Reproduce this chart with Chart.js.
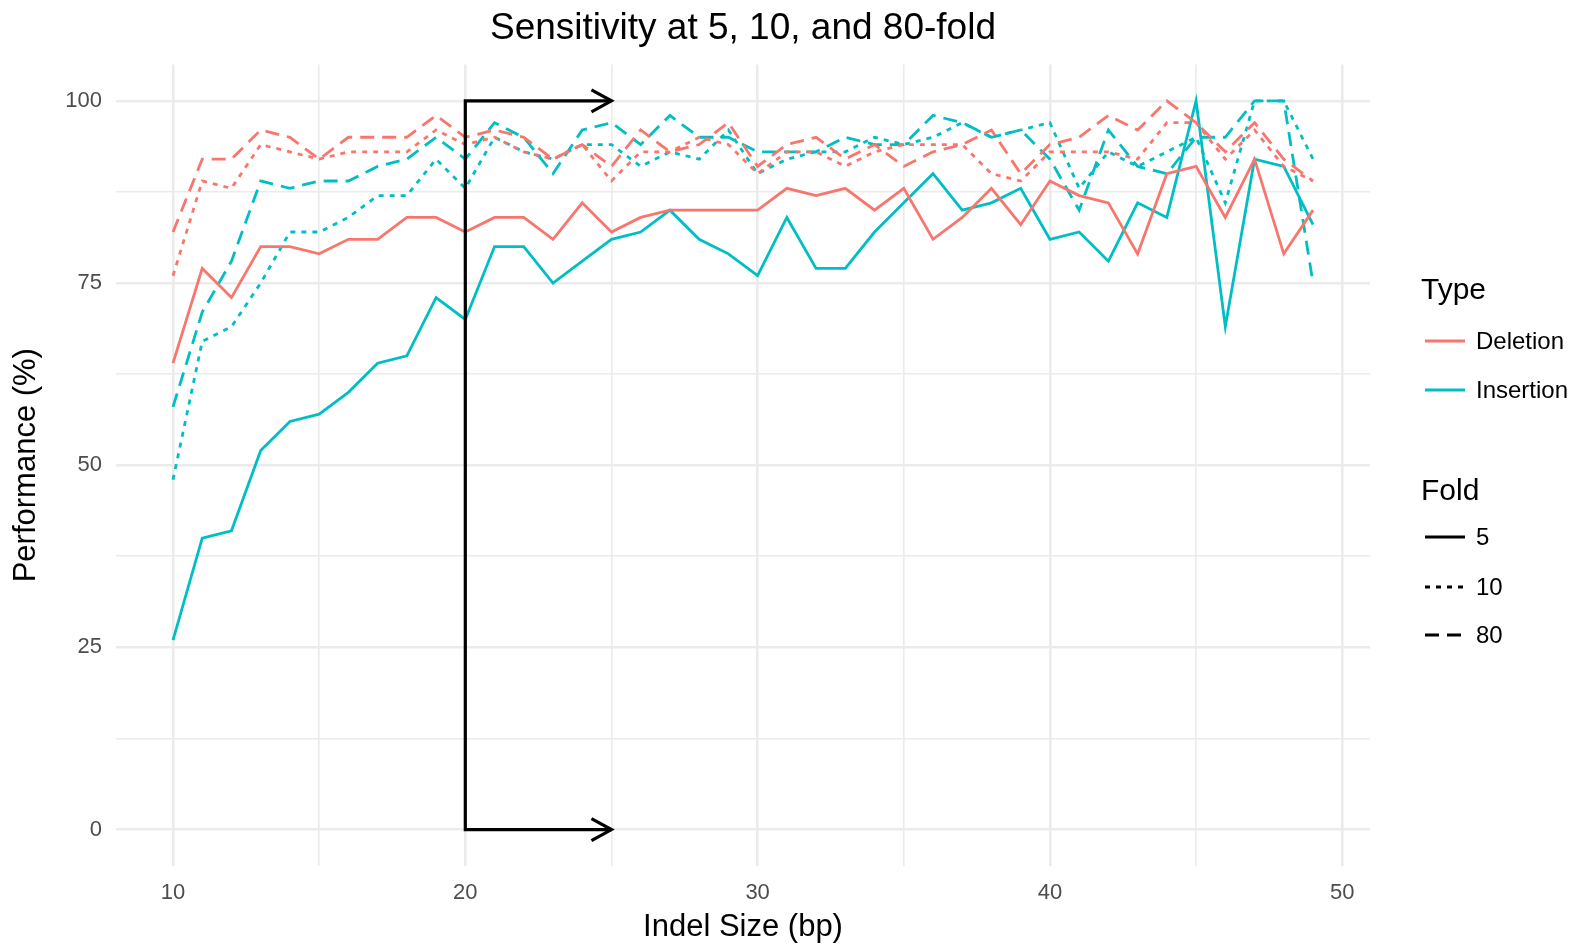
<!DOCTYPE html>
<html>
<head>
<meta charset="utf-8">
<script src="https://cdn.jsdelivr.net/npm/chart.js@4.4.1/dist/chart.umd.min.js"></script>
<style>
  html, body { margin: 0; padding: 0; background: #fff; }
</style>
</head>
<body>
<canvas id="chartSensitivity" width="1584" height="945"></canvas>
<script>
// indel sizes (bp)
var indelSize = [10, 11, 12, 13, 14, 15, 16, 17, 18, 19,
                 20, 21, 22, 23, 24, 25, 26, 27, 28, 29,
                 30, 31, 32, 33, 34, 35, 36, 37, 38, 39,
                 40, 41, 42, 43, 44, 45, 46, 47, 48, 49];

// performance (%) per type and fold
var deletion5  = [64, 77, 73, 80, 80, 79, 81, 81, 84, 84,
                  82, 84, 84, 81, 86, 82, 84, 85, 85, 85,
                  85, 88, 87, 88, 85, 88, 81, 84, 88, 83,
                  89, 87, 86, 79, 90, 91, 84, 92, 79, 85];
var deletion10 = [76, 89, 88, 94, 93, 92, 93, 93, 93, 96,
                  94, 95, 93, 92, 94, 89, 93, 93, 95, 94,
                  90, 93, 93, 91, 93, 94, 94, 94, 90, 89,
                  93, 93, 93, 92, 97, 97, 92, 96, 91, 89];
var deletion80 = [82, 92, 92, 96, 95, 92, 95, 95, 95, 98,
                  95, 96, 95, 92, 94, 91, 96, 93, 94, 97,
                  91, 94, 95, 92, 94, 91, 93, 94, 96, 90,
                  94, 95, 98, 96, 100, 97, 93, 97, 92, 89];
var insertion5  = [26, 40, 41, 52, 56, 57, 60, 64, 65, 73,
                   70, 80, 80, 75, 78, 81, 82, 85, 81, 79,
                   76, 84, 77, 77, 82, 86, 90, 85, 86, 88,
                   81, 82, 78, 86, 84, 100, 69, 92, 91, 83];
var insertion10 = [48, 67, 69, 75, 82, 82, 84, 87, 87, 92,
                   88, 95, 93, 92, 94, 94, 91, 93, 92, 96,
                   90, 92, 93, 93, 95, 94, 95, 97, 95, 96,
                   97, 88, 93, 91, 93, 95, 86, 100, 100, 92];
var insertion80 = [58, 71, 78, 89, 88, 89, 89, 91, 92, 95,
                   92, 97, 95, 90, 96, 97, 94, 98, 95, 95,
                   93, 93, 93, 95, 94, 94, 98, 97, 95, 96,
                   92, 85, 96, 91, 90, 95, 95, 100, 100, 75];

var types = ['Deletion', 'Insertion'];
var folds = ['5', '10', '80'];
var xTicks = [10, 15, 20, 25, 30, 35, 40, 45, 50];
var yTicks = [0, 12.5, 25, 37.5, 50, 62.5, 75, 87.5, 100];

// bracket marking the 20 bp window
var bracketX = [20, 25];
var bracketY = [0, 100];

var typeColors = {Deletion: '#F8766D', Insertion: '#00BFC4'};
var foldDash = {'5': [], '10': [5, 6], '80': [14, 8]};

var FONT = '"Liberation Sans", Arial, Helvetica, sans-serif';
Chart.defaults.font.family = FONT;

function toPoints(values) {
    return values.map(function (v, i) { return {x: indelSize[i], y: v}; });
}

function makeSet(type, fold, values) {
    return {
        label: type + ' ' + fold,
        data: toPoints(values),
        borderColor: typeColors[type],
        borderDash: foldDash[fold],
        borderWidth: 2.8,
        borderCapStyle: 'butt',
        pointRadius: 0,
        tension: 0,
        fill: false
    };
}

var bracketPlugin = {
    id: 'bracket',
    afterDatasetsDraw: function (chart) {
        var ctx = chart.ctx, xs = chart.scales.x, ys = chart.scales.y;
        var x0 = xs.getPixelForValue(bracketX[0]);
        var x1 = xs.getPixelForValue(bracketX[1]);
        var yLow = ys.getPixelForValue(bracketY[0]);
        var yHigh = ys.getPixelForValue(bracketY[1]);
        ctx.save();
        ctx.strokeStyle = '#000';
        ctx.lineWidth = 3.2;
        ctx.lineCap = 'butt';
        ctx.lineJoin = 'miter';
        ctx.beginPath();
        ctx.moveTo(x1, yHigh);
        ctx.lineTo(x0, yHigh);
        ctx.lineTo(x0, yLow);
        ctx.lineTo(x1, yLow);
        ctx.stroke();
        [yHigh, yLow].forEach(function (y) {
            ctx.beginPath();
            ctx.moveTo(x1 - 20, y - 11);
            ctx.lineTo(x1, y);
            ctx.lineTo(x1 - 20, y + 11);
            ctx.stroke();
        });
        ctx.restore();
    }
};

var legendPlugin = {
    id: 'typeFoldLegend',
    afterDraw: function (chart) {
        var ctx = chart.ctx;
        var keyX0 = 1425, keyX1 = 1465, textX = 1476;
        ctx.save();
        ctx.textBaseline = 'middle';
        ctx.textAlign = 'left';
        ctx.fillStyle = '#000';

        ctx.font = '30px ' + FONT;
        ctx.fillText('Type', 1421, 291);
        ctx.fillText('Fold', 1421, 492);

        ctx.font = '24px ' + FONT;
        ctx.lineWidth = 2.8;
        ctx.lineCap = 'butt';
        var typeRows = [341, 390];
        types.forEach(function (t, i) {
            ctx.strokeStyle = typeColors[t];
            ctx.setLineDash([]);
            ctx.beginPath();
            ctx.moveTo(keyX0, typeRows[i]);
            ctx.lineTo(keyX1, typeRows[i]);
            ctx.stroke();
            ctx.fillText(t, textX, typeRows[i] + 1);
        });
        var foldRows = [537, 587, 635];
        folds.forEach(function (f, i) {
            ctx.strokeStyle = '#000';
            ctx.setLineDash(foldDash[f]);
            ctx.beginPath();
            ctx.moveTo(keyX0, foldRows[i]);
            ctx.lineTo(keyX1, foldRows[i]);
            ctx.stroke();
            ctx.fillText(f, textX, foldRows[i] + 1);
        });
        ctx.restore();
    }
};

var datasets = [
    makeSet('Deletion', '5', deletion5),
    makeSet('Deletion', '10', deletion10),
    makeSet('Deletion', '80', deletion80),
    makeSet('Insertion', '5', insertion5),
    makeSet('Insertion', '10', insertion10),
    makeSet('Insertion', '80', insertion80)
];

var ctx = document.getElementById('chartSensitivity').getContext('2d');
new Chart(ctx, {
    type: 'line',
    data: {datasets: datasets},
    plugins: [bracketPlugin, legendPlugin],
    options: {
        responsive: false,
        animation: false,
        layout: {padding: {left: 0, right: 214, top: 0, bottom: 0}},
        plugins: {
            legend: {display: false},
            tooltip: {enabled: false},
            title: {
                display: true,
                text: 'Sensitivity at 5, 10, and 80-fold',
                color: '#000',
                fullSize: false,
                font: {size: 37, weight: 'normal', lineHeight: 1.2},
                padding: {top: 7, bottom: 13}
            }
        },
        scales: {
            x: {
                type: 'linear',
                min: 8.05,
                max: 50.95,
                afterBuildTicks: function (scale) {
                    scale.ticks = xTicks.map(function (v) { return {value: v}; });
                },
                afterFit: function (scale) { scale.height = 79; },
                border: {display: false},
                grid: {
                    color: '#EBEBEB',
                    drawTicks: false,
                    lineWidth: function (c) { return c.tick && c.tick.value % 10 === 0 ? 2.6 : 1.6; }
                },
                ticks: {
                    color: '#4D4D4D',
                    padding: 14,
                    maxRotation: 0,
                    font: {size: 22},
                    callback: function (v) { return v % 10 === 0 ? v : ''; }
                },
                title: {
                    display: true,
                    text: 'Indel Size (bp)',
                    color: '#000',
                    font: {size: 31, lineHeight: 1.0},
                    padding: {top: 0, bottom: 2}
                }
            },
            y: {
                min: -5,
                max: 105,
                afterBuildTicks: function (scale) {
                    scale.ticks = yTicks.map(function (v) { return {value: v}; });
                },
                afterFit: function (scale) { scale.width = 116; },
                border: {display: false},
                grid: {
                    color: '#EBEBEB',
                    drawTicks: false,
                    lineWidth: function (c) { return c.tick && c.tick.value % 25 === 0 ? 2.6 : 1.6; }
                },
                ticks: {
                    color: '#4D4D4D',
                    padding: 14,
                    font: {size: 22},
                    callback: function (v) { return v % 25 === 0 ? v : ''; }
                },
                title: {
                    display: true,
                    text: 'Performance (%)',
                    color: '#000',
                    font: {size: 31},
                    padding: {top: 8, bottom: 0}
                }
            }
        }
    }
});
</script>
</body>
</html>
